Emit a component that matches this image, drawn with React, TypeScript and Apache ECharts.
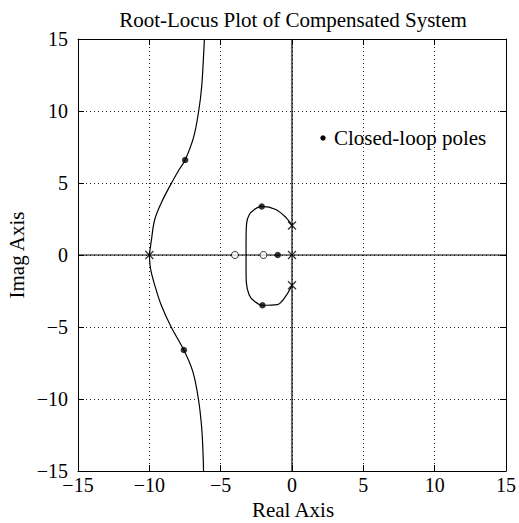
import React, { useEffect, useRef } from "react";
import * as echarts from "echarts";

const titleText = "Root-Locus Plot of Compensated System";
const xName = "Real Axis";
const yName = "Imag Axis";
const legendText = "Closed-loop poles";
const axisMin = -15;
const axisMax = 15;
const axisStep = 5;

// root-locus branches (real, imag)
const upperBranch = [
  [-10, 0], [-9.86, 1], [-9.63, 2.43], [-9.17, 3.6], [-8.58, 4.75], [-7.93, 5.9],
  [-7.49, 6.6], [-6.89, 8.2], [-6.54, 10], [-6.33, 11.7], [-6.19, 14], [-6.14, 15],
];
const lowerBranch = [
  [-10, 0], [-9.9, -1.04], [-9.56, -2.3], [-9.17, -3.47], [-8.47, -5], [-7.58, -6.6],
  [-6.95, -8.1], [-6.56, -10], [-6.33, -12], [-6.23, -13.9], [-6.2, -15],
];
const innerLoop = [
  [0, 2.05], [-0.4, 2.58], [-1.14, 3.16], [-2.12, 3.37], [-2.65, 3.15], [-3.0, 2.8],
  [-3.18, 2.2], [-3.22, 1], [-3.22, 0], [-3.22, -1], [-3.2, -1.9], [-3.0, -2.78],
  [-2.65, -3.2], [-2.07, -3.49], [-1.02, -3.44], [-0.44, -2.86], [0, -2.1],
];
const openLoopPoles = [[0, 0], [0, 2.05], [0, -2.1], [-10, 0]];
const openLoopZeros = [[-4, 0], [-2, 0]];
const closedLoopPoles = [[-1, 0], [-2.12, 3.37], [-2.07, -3.49], [-7.49, 6.6], [-7.58, -6.6]];
const realAxisLine = [[-15, 0], [15, 0]];
const imagAxisLine = [[0, -15], [0, 15]];

const FONT = "'Liberation Serif', 'Times New Roman', serif";

export default function App() {
  const ref = useRef<HTMLDivElement>(null);
  useEffect(() => {
    if (!ref.current) return;
    const chart = echarts.init(ref.current, null, { renderer: "svg" });
    const left = 78, right = 11, top = 39, bottom = 52;
    const W = 519, H = 523;
    const plotCx = left + (W - left - right) / 2;
    const plotCy = top + (H - top - bottom) / 2;

    const baseX = {
      type: "value" as const,
      min: axisMin,
      max: axisMax,
      interval: axisStep,
      axisLine: { show: true, onZero: false, lineStyle: { color: "#000", width: 1 } },
      axisTick: { show: true, inside: true, length: 6, lineStyle: { color: "#000" } },
    };
    const lineSeries = (data: number[][], z = 3) => ({
      type: "line" as const,
      data,
      xAxisIndex: 0,
      yAxisIndex: 0,
      smooth: 0.35,
      showSymbol: false,
      symbol: "none",
      lineStyle: { color: "#000", width: 1.2 },
      z,
      silent: true,
    });

    chart.setOption({
      animation: false,
      backgroundColor: "#fff",
      textStyle: { fontFamily: FONT },
      grid: { left, right, top, bottom, containLabel: false, show: false },
      xAxis: [
        {
          ...baseX,
          position: "bottom",
          axisLabel: {
            show: true, color: "#000", fontFamily: FONT, fontSize: 20, margin: 4,
            formatter: (v: number) => (v < 0 ? "\u2212" + Math.abs(v) : String(v)),
          },
          splitLine: { show: true, lineStyle: { color: "#222", width: 1, type: [1, 3] } },
        },
        {
          ...baseX,
          position: "top",
          axisLabel: { show: false },
          splitLine: { show: false },
        },
      ],
      yAxis: [
        {
          ...baseX,
          position: "left",
          axisLabel: {
            show: true, color: "#000", fontFamily: FONT, fontSize: 20, margin: 10,
            formatter: (v: number) => (v < 0 ? "\u2212" + Math.abs(v) : String(v)),
          },
          splitLine: { show: true, lineStyle: { color: "#222", width: 1, type: [1, 3] } },
        },
        {
          ...baseX,
          position: "right",
          axisLabel: { show: false },
          splitLine: { show: false },
        },
      ],
      series: [
        lineSeries(realAxisLine, 2),
        lineSeries(imagAxisLine, 2),
        lineSeries(upperBranch),
        lineSeries(lowerBranch),
        lineSeries(innerLoop),
        {
          type: "scatter",
          data: openLoopPoles,
          symbol: "path://M0,0L10,10M10,0L0,10",
          symbolSize: 8,
          itemStyle: { color: "none", borderColor: "#000", borderWidth: 1.3 },
          z: 5,
          silent: true,
        },
        {
          type: "scatter",
          data: openLoopZeros,
          symbol: "circle",
          symbolSize: 7,
          itemStyle: { color: "#fff", borderColor: "#000", borderWidth: 1 },
          z: 5,
          silent: true,
        },
        {
          type: "scatter",
          data: closedLoopPoles,
          symbol: "circle",
          symbolSize: 6.5,
          itemStyle: { color: "#000" },
          z: 6,
          silent: true,
        },
      ],
      graphic: [
        {
          type: "text",
          x: plotCx,
          y: 20,
          style: { text: titleText, font: `21px ${FONT}`, fill: "#000", align: "center", verticalAlign: "middle" },
        },
        {
          type: "text",
          x: plotCx,
          y: 510,
          style: { text: xName, font: `21px ${FONT}`, fill: "#000", align: "center", verticalAlign: "middle" },
        },
        {
          type: "text",
          x: 17,
          y: plotCy,
          rotation: Math.PI / 2,
          style: { text: yName, font: `21px ${FONT}`, fill: "#000", align: "center", verticalAlign: "middle" },
        },
        {
          type: "circle",
          shape: { cx: 323, cy: 138, r: 2.7 },
          style: { fill: "#000" },
        },
        {
          type: "text",
          x: 334,
          y: 138,
          style: { text: legendText, font: `21px ${FONT}`, fill: "#000", align: "left", verticalAlign: "middle" },
        },
      ],
    });
    return () => chart.dispose();
  }, []);
  return (
    <div
      ref={ref}
      style={{ position: "fixed", left: 0, top: 0, width: 519, height: 523, background: "#fff" }}
    />
  );
}
